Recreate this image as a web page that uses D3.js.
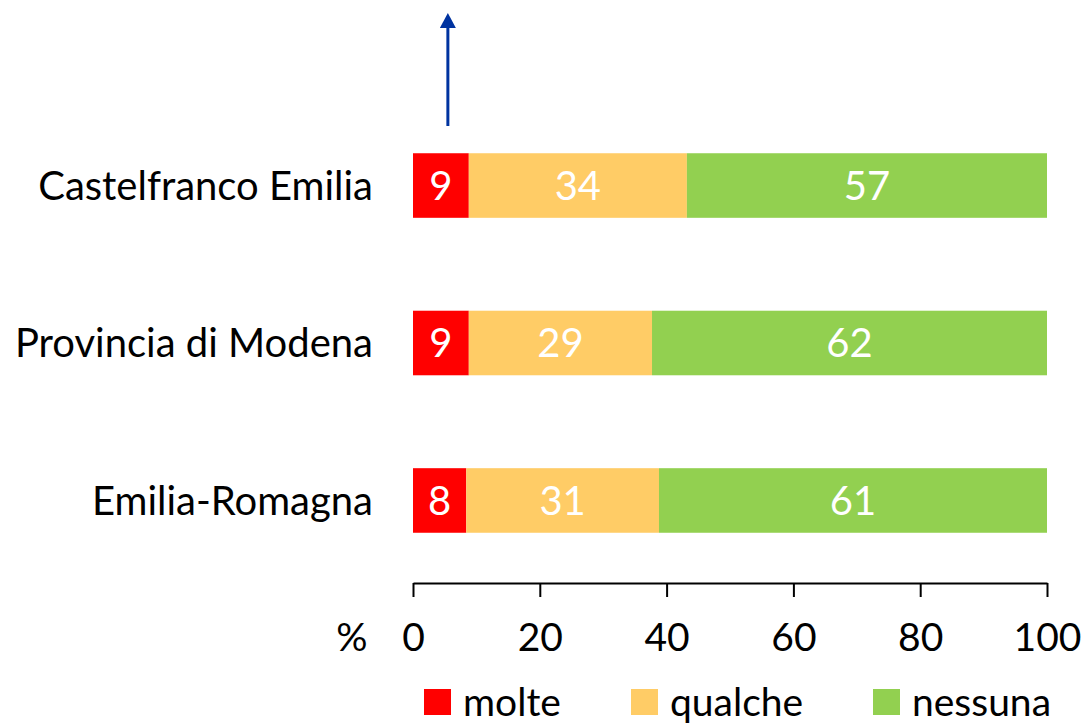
<!DOCTYPE html>
<html>
<head>
<meta charset="utf-8">
<script src="https://cdn.jsdelivr.net/npm/d3@7"></script>
<style>
  body { margin: 0; background: #fff; }
  svg { display: block; font-family: Lato, "Liberation Sans", sans-serif; }
</style>
</head>
<body>
<script>
const w = 1087;
const h = 724;

const categories = ["Castelfranco Emilia", "Provincia di Modena", "Emilia-Romagna"];
const molte = [8.8, 8.8, 8.4];
const qualche = [34.4, 28.9, 30.4];
const nessuna = [56.8, 62.3, 61.2];
const labels = [[9, 34, 57], [9, 29, 62], [8, 31, 61]];
const seriesNames = ["molte", "qualche", "nessuna"];
const colors = ["#ff0000", "#ffcc66", "#92d050"];
const ticks = [0, 20, 40, 60, 80, 100];
const arrowAt = 5.5;

const svg = d3.select("body").append("svg")
  .attr("width", w)
  .attr("height", h);

const x = d3.scaleLinear().domain([0, 100]).range([413, 1047]);
const y = d3.scaleBand().domain(categories).range([106, 580]).paddingInner(0.59).paddingOuter(0.3);

const rows = categories.map((c, i) => ({ cat: c, molte: molte[i], qualche: qualche[i], nessuna: nessuna[i] }));
const stack = d3.stack().keys(seriesNames)(rows);

const layers = svg.selectAll("g.layer")
  .data(stack)
  .enter()
  .append("g")
  .attr("class", "layer")
  .attr("fill", (d, i) => colors[i]);

layers.selectAll("rect")
  .data(d => d)
  .enter()
  .append("rect")
  .attr("x", d => x(d[0]))
  .attr("y", d => y(d.data.cat))
  .attr("width", d => x(d[1]) - x(d[0]))
  .attr("height", y.bandwidth());

layers.selectAll("text")
  .data((d, si) => d.map((p, ci) => ({ p: p, txt: labels[ci][si] })))
  .enter()
  .append("text")
  .attr("x", d => (x(d.p[0]) + x(d.p[1])) / 2)
  .attr("y", d => y(d.p.data.cat) + y.bandwidth() / 2)
  .attr("dy", "0.36em")
  .attr("text-anchor", "middle")
  .attr("fill", "#fff")
  .style("font-size", "40px")
  .text(d => d.txt);

// category labels
svg.selectAll("text.cat")
  .data(categories)
  .enter()
  .append("text")
  .attr("class", "cat")
  .attr("x", 373)
  .attr("y", d => y(d) + y.bandwidth() / 2)
  .attr("dy", "0.36em")
  .attr("text-anchor", "end")
  .style("font-size", "40px")
  .attr("fill", "#000")
  .text(d => d);

// x axis
const xAxis = d3.axisBottom(x).tickValues(ticks).tickSize(14).tickSizeOuter(0).tickPadding(26);
const gx = svg.append("g")
  .attr("transform", "translate(0,583)")
  .call(xAxis);
gx.select(".domain").attr("stroke", "#000").attr("stroke-width", 2);
gx.selectAll(".tick line").attr("stroke", "#000").attr("stroke-width", 2);
gx.selectAll(".tick text")
  .style("font-size", "39px")
  .style("font-family", "Lato, sans-serif")
  .attr("fill", "#000");

svg.append("text")
  .attr("x", 352)
  .attr("y", 651)
  .attr("text-anchor", "middle")
  .style("font-size", "39px")
  .text("%");

// arrow
const defs = svg.append("defs");
defs.append("marker")
  .attr("id", "arrowhead")
  .attr("markerUnits", "userSpaceOnUse")
  .attr("viewBox", "0 0 15 16")
  .attr("refX", 0)
  .attr("refY", 8)
  .attr("markerWidth", 15)
  .attr("markerHeight", 16)
  .attr("orient", "auto")
  .append("path")
  .attr("d", "M0,0 L15,8 L0,16 Z")
  .attr("fill", "#0033a0");

svg.append("line")
  .attr("x1", x(arrowAt))
  .attr("x2", x(arrowAt))
  .attr("y1", 126)
  .attr("y2", 28)
  .attr("stroke", "#0033a0")
  .attr("stroke-width", 3)
  .attr("marker-end", "url(#arrowhead)");

// legend
const legendX = [424, 631, 873];
const legend = svg.selectAll("g.legend")
  .data(seriesNames)
  .enter()
  .append("g")
  .attr("class", "legend")
  .attr("transform", (d, i) => "translate(" + legendX[i] + ",689)");

legend.append("rect")
  .attr("width", 27)
  .attr("height", 26)
  .attr("fill", (d, i) => colors[i]);

legend.append("text")
  .attr("x", 39)
  .attr("y", 13)
  .attr("dy", "0.36em")
  .style("font-size", "39px")
  .text(d => d);
</script>
</body>
</html>
